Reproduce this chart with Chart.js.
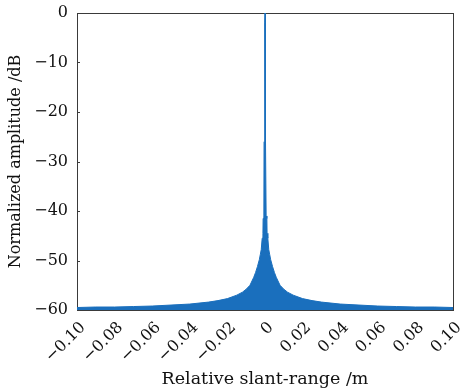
<!DOCTYPE html>
<html>
<head>
<meta charset="utf-8">
<script src="https://cdn.jsdelivr.net/npm/chart.js@4/dist/chart.umd.min.js"></script>
<style>
html,body{margin:0;padding:0;background:#fff;}
#wrap{width:464px;height:392px;}
</style>
</head>
<body>
<div id="wrap"><canvas id="c" width="464" height="392"></canvas></div>
<script>
// Envelope of the range profile (relative slant range in m, amplitude in dB)
const rangeX = [-0.100,-0.090,-0.080,-0.070,-0.060,-0.050,-0.040,-0.030,-0.025,-0.020,-0.015,-0.012,-0.010,-0.008,-0.006,-0.005,-0.004,-0.003,-0.0025,-0.002,-0.0015,-0.0011,-0.0010,-0.0006,-0.0005,-0.0002,-0.0001,0,
  0.0001,0.0002,0.0005,0.0006,0.0010,0.0011,0.0015,0.002,0.0025,0.003,0.004,0.005,0.006,0.008,0.010,0.012,0.015,0.020,0.025,0.030,0.040,0.050,0.060,0.070,0.080,0.090,0.100];
const amplitudeDb = [-59.5,-59.4,-59.4,-59.3,-59.2,-59.0,-58.8,-58.4,-58.1,-57.7,-57.0,-56.4,-55.8,-55.0,-53.4,-52.4,-51.2,-49.8,-48.8,-47.8,-45.5,-44.5,-41.5,-41,-26,-25,-2,0,
  -2,-25,-26,-41,-41.5,-44.5,-45.5,-47.8,-48.8,-49.8,-51.2,-52.4,-53.4,-55.0,-55.8,-56.4,-57.0,-57.7,-58.1,-58.4,-58.8,-59.0,-59.2,-59.3,-59.4,-59.4,-59.5];
const xTickLabels = ["\u22120.10","\u22120.08","\u22120.06","\u22120.04","\u22120.02","0","0.02","0.04","0.06","0.08","0.10"];
const yTickLabels = ["\u221260","\u221250","\u221240","\u221230","\u221220","\u221210","0"];

const points = rangeX.map((x,i)=>({x:x, y:amplitudeDb[i]}));
const BLUE = '#1a6fbd';
const FONT = 'DejaVu Serif';

const framePlugin = {
  id:'frame',
  beforeDatasetsDraw(chart){
    const {ctx, chartArea:a, scales} = chart;
    ctx.save();
    ctx.strokeStyle = '#3a3a3a';
    ctx.lineWidth = 1;
    ctx.strokeRect(Math.round(a.left)+0.5, Math.round(a.top)+0.5, Math.round(a.right-a.left), Math.round(a.bottom-a.top));
    ctx.beginPath();
    scales.y.ticks.forEach(t=>{
      const py = Math.round(scales.y.getPixelForValue(t.value))+0.5;
      ctx.moveTo(a.left, py); ctx.lineTo(a.left+3, py);
    });
    scales.x.ticks.forEach(t=>{
      const px = Math.round(scales.x.getPixelForValue(t.value))+0.5;
      ctx.moveTo(px, a.bottom); ctx.lineTo(px, a.bottom-3);
    });
    ctx.stroke();
    ctx.restore();
  },
  afterDraw(chart){
    // rotated x tick labels (45 deg), positioned from the x scale
    const {ctx, chartArea:a, scales} = chart;
    ctx.save();
    ctx.fillStyle = '#111';
    ctx.font = '16px "' + FONT + '"';
    ctx.textAlign = 'right';
    ctx.textBaseline = 'middle';
    scales.x.ticks.forEach((t,i)=>{
      const px = scales.x.getPixelForValue(t.value);
      ctx.save();
      ctx.translate(px + 6, a.bottom + 15);
      ctx.rotate(-Math.PI/4);
      ctx.fillText(xTickLabels[i], 0, 0);
      ctx.restore();
    });
    ctx.restore();
  }
};

new Chart(document.getElementById('c'), {
  type:'line',
  data:{ datasets:[{
    data: points,
    borderColor: BLUE,
    backgroundColor: BLUE,
    borderWidth: 1,
    pointRadius: 0,
    tension: 0,
    fill: 'start'
  }]},
  options:{
    responsive:false,
    animation:false,
    devicePixelRatio:1,
    layout:{padding:{left:0,right:11,top:13,bottom:2}},
    plugins:{legend:{display:false}, tooltip:{enabled:false}},
    scales:{
      x:{
        type:'linear', min:-0.1, max:0.1,
        border:{display:false},
        grid:{display:false, drawTicks:false},
        ticks:{stepSize:0.02, display:false},
        title:{display:true, text:'Relative slant-range /m', color:'#111', font:{family:FONT,size:17.5}, padding:{top:0,bottom:0}},
        afterFit(s){ s.height = 80; s.paddingLeft = 0; s.paddingRight = 0; }
      },
      y:{
        min:-60, max:0,
        border:{display:false},
        grid:{display:false, drawTicks:false},
        ticks:{stepSize:10, padding:9, color:'#111',
          font:{family:FONT,size:16},
          callback:(v,i)=>yTickLabels[i]},
        title:{display:true, text:'Normalized amplitude /dB', color:'#111', font:{family:FONT,size:16}, padding:{top:6,bottom:2}},
        afterFit(s){ s.width = 77; s.paddingTop = 0; s.paddingBottom = 0; }
      }
    }
  },
  plugins:[framePlugin]
});
</script>
</body>
</html>
